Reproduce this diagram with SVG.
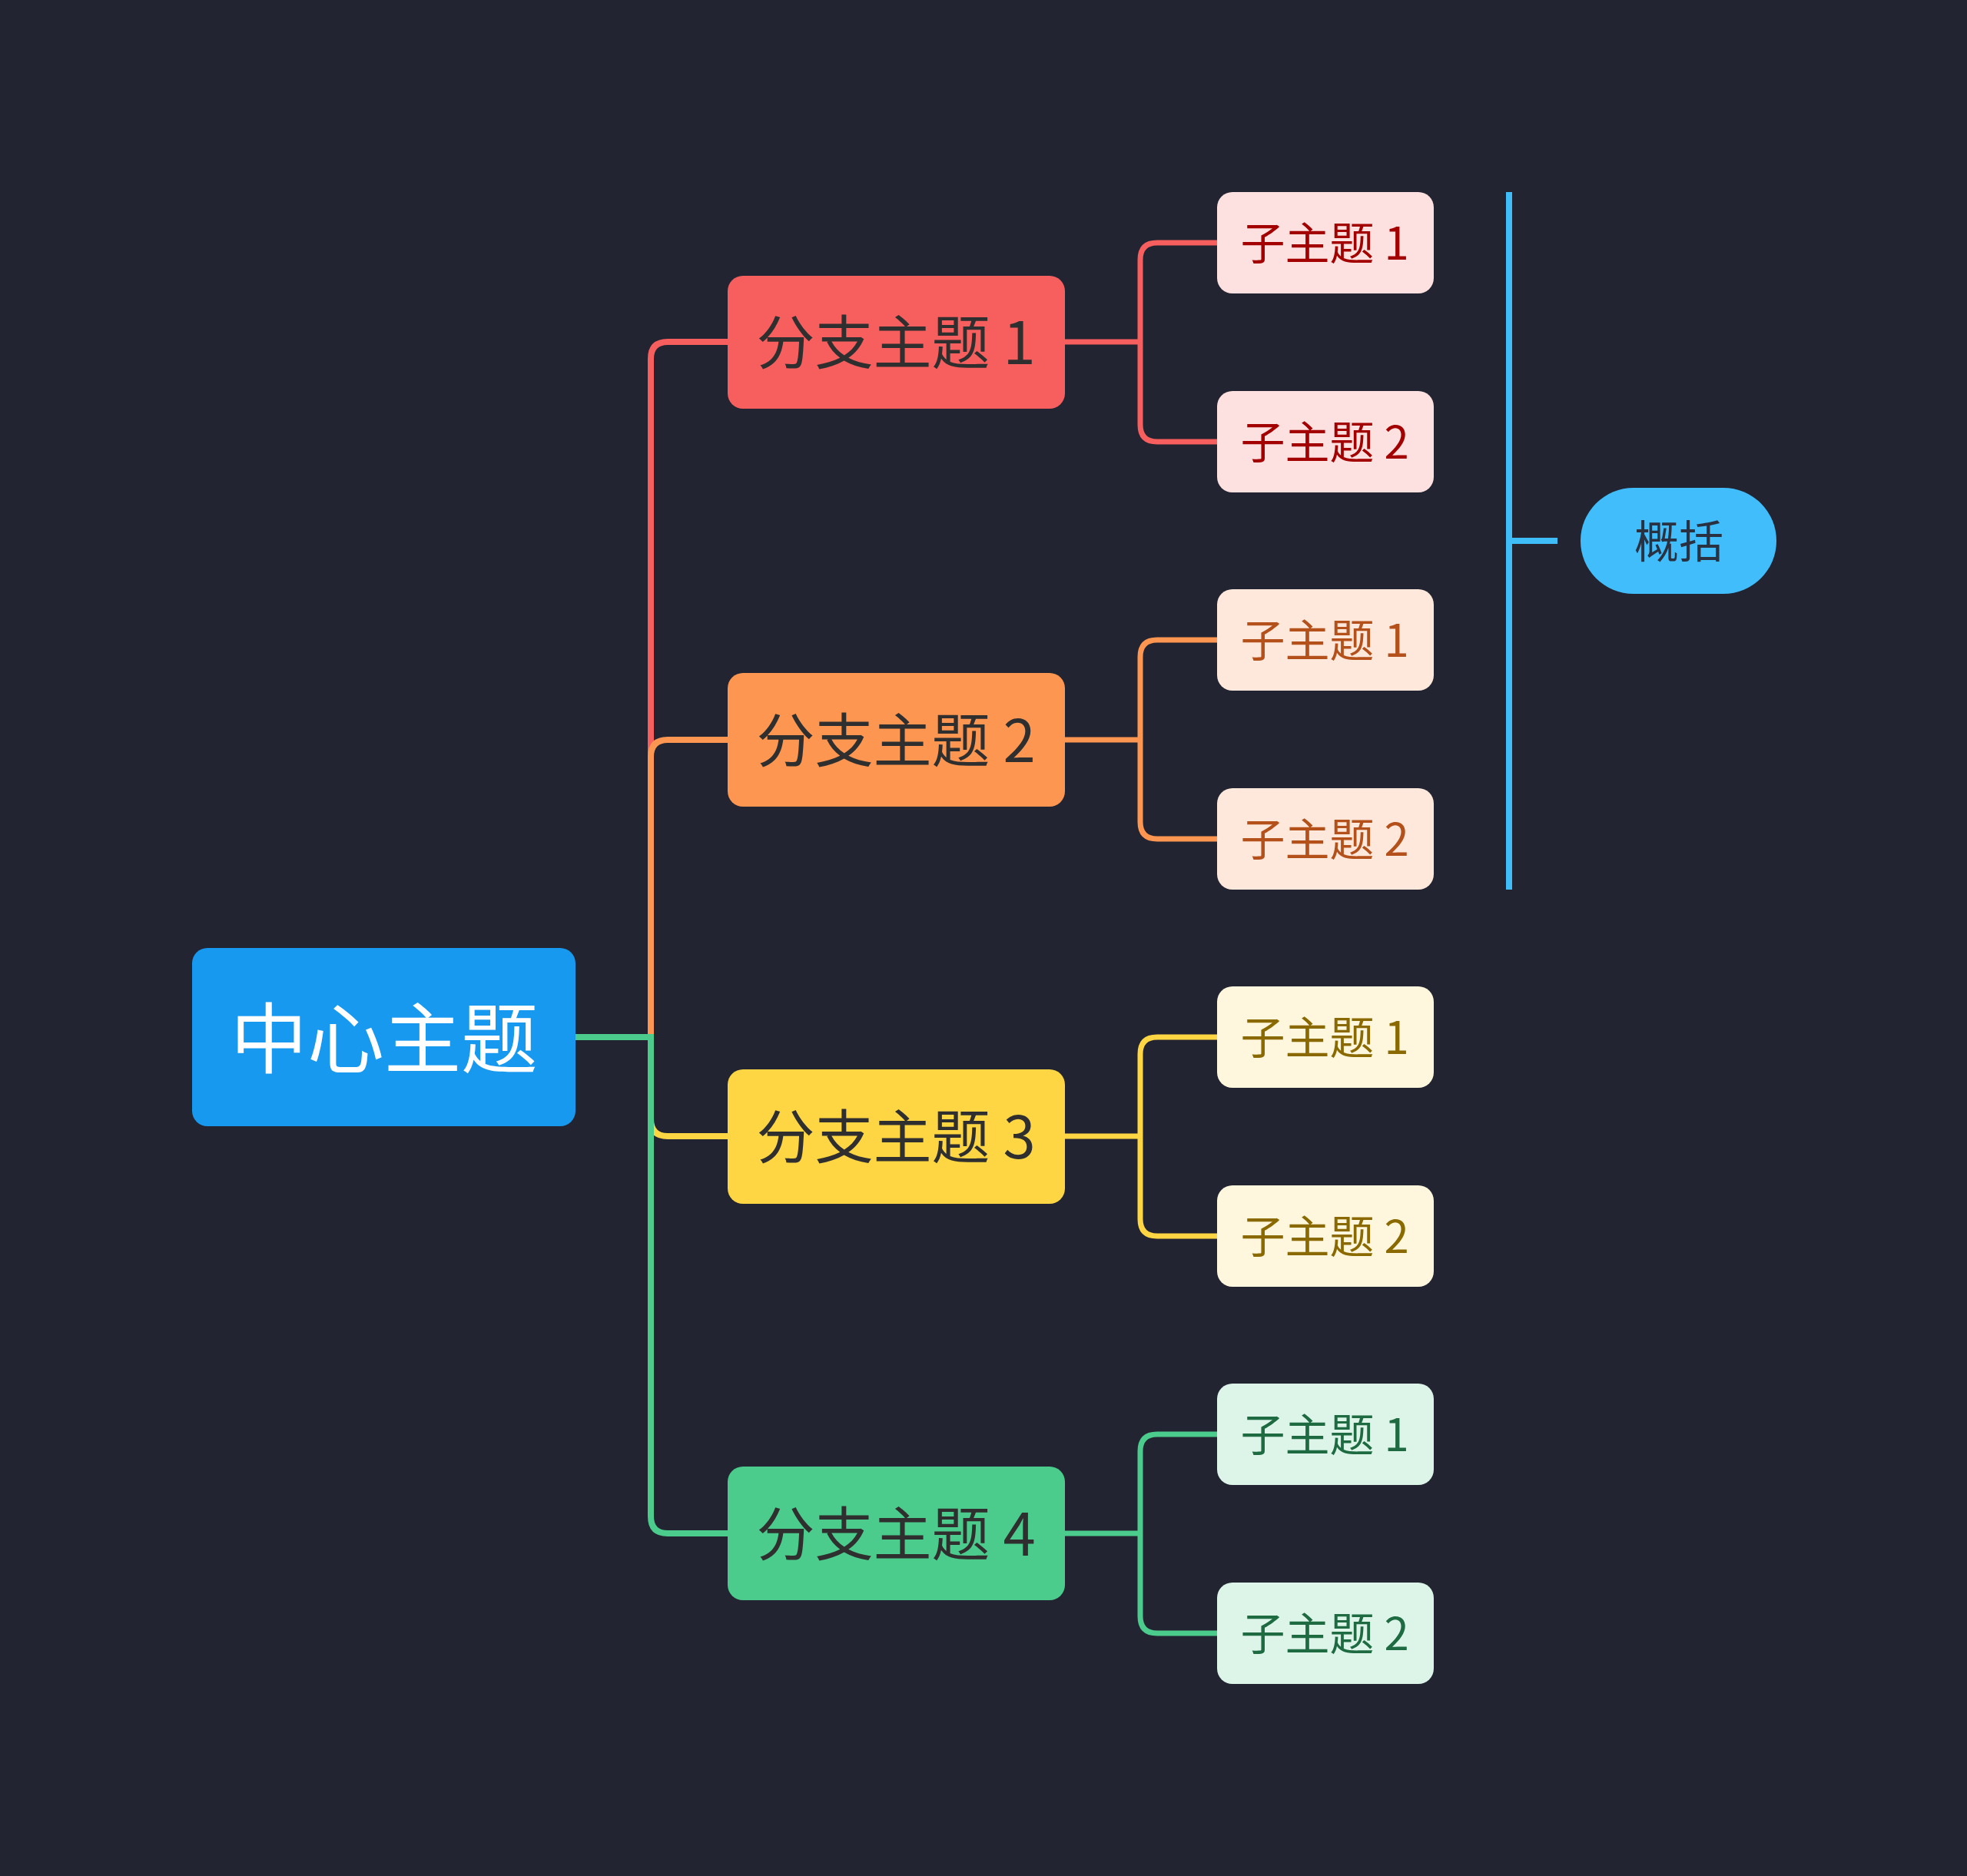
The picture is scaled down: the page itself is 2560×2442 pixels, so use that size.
<svg xmlns="http://www.w3.org/2000/svg" width="2560" height="2442" viewBox="0 0 2560 2442">
<style>
text{font-family:"Noto Sans CJK SC","Noto Sans",sans-serif;text-anchor:middle;dominant-baseline:central}
.c1{fill:#f75f5f}.c2{fill:#fd9650}.c3{fill:#fed643}.c4{fill:#4ccc8c}
.bt{font-size:76px;fill:#2f2f2f}
.st{font-size:58px}
.s1{fill:#fde0e0}.s2{fill:#fee8dc}.s3{fill:#fef7dd}.s4{fill:#dcf5e8}
.t1{fill:#a30000}.t2{fill:#b4501a}.t3{fill:#8a6a00}.t4{fill:#1e6b42}
.ln{fill:none;stroke-width:8}
.sl{fill:none;stroke-width:7}
</style>
<rect width="2560" height="2442" fill="#222531"/>
<g id="connectors">
<path class="ln" stroke="#f75f5f" d="M749 1350H847V467Q847 445 869 445H947"/>
<path class="ln" stroke="#fd9650" d="M749 1350H847V985Q847 963 869 963H947"/>
<path class="ln" stroke="#fed643" d="M749 1350H847V1457Q847 1479 869 1479H947"/>
<path class="ln" stroke="#4ccc8c" d="M749 1350H847V1974Q847 1996 869 1996H947"/>
<path class="sl" stroke="#f75f5f" d="M1386 445H1484M1584 316H1506Q1484 316 1484 338V553Q1484 575 1506 575H1584"/>
<path class="sl" stroke="#fd9650" d="M1386 963H1484M1584 833H1506Q1484 833 1484 855V1070Q1484 1092 1506 1092H1584"/>
<path class="sl" stroke="#fed643" d="M1386 1479H1484M1584 1350H1506Q1484 1350 1484 1372V1587Q1484 1609 1506 1609H1584"/>
<path class="sl" stroke="#4ccc8c" d="M1386 1996H1484M1584 1867H1506Q1484 1867 1484 1889V2104Q1484 2126 1506 2126H1584"/>
<path fill="none" stroke="#3fbdf8" stroke-width="8" d="M1964 250V1158M1964 704H2027"/>
</g>
<g id="center">
<rect x="250" y="1234" width="499" height="232" rx="20" fill="#1899f0"/>
<text x="500" y="1345" font-size="100" fill="#ffffff">中心主题</text>
</g>
<g id="branch1"><rect class="c1" x="947" y="359" width="439" height="173" rx="20"/><text class="bt" x="1166" y="441">分支主题 1</text></g>
<g id="branch2"><rect class="c2" x="947" y="876" width="439" height="174" rx="20"/><text class="bt" x="1166" y="959">分支主题 2</text></g>
<g id="branch3"><rect class="c3" x="947" y="1392" width="439" height="175" rx="20"/><text class="bt" x="1166" y="1475">分支主题 3</text></g>
<g id="branch4"><rect class="c4" x="947" y="1909" width="439" height="174" rx="20"/><text class="bt" x="1166" y="1992">分支主题 4</text></g>
<g id="sub1a"><rect class="s1" x="1584" y="250" width="282" height="132" rx="20"/><text class="st t1" x="1724" y="313">子主题 1</text></g>
<g id="sub1b"><rect class="s1" x="1584" y="509" width="282" height="132" rx="20"/><text class="st t1" x="1724" y="572">子主题 2</text></g>
<g id="sub2a"><rect class="s2" x="1584" y="767" width="282" height="132" rx="20"/><text class="st t2" x="1724" y="830">子主题 1</text></g>
<g id="sub2b"><rect class="s2" x="1584" y="1026" width="282" height="132" rx="20"/><text class="st t2" x="1724" y="1089">子主题 2</text></g>
<g id="sub3a"><rect class="s3" x="1584" y="1284" width="282" height="132" rx="20"/><text class="st t3" x="1724" y="1347">子主题 1</text></g>
<g id="sub3b"><rect class="s3" x="1584" y="1543" width="282" height="132" rx="20"/><text class="st t3" x="1724" y="1606">子主题 2</text></g>
<g id="sub4a"><rect class="s4" x="1584" y="1801" width="282" height="132" rx="20"/><text class="st t4" x="1724" y="1864">子主题 1</text></g>
<g id="sub4b"><rect class="s4" x="1584" y="2060" width="282" height="132" rx="20"/><text class="st t4" x="1724" y="2123">子主题 2</text></g>
<g id="summary">
<rect x="2057" y="635" width="255" height="138" rx="69" fill="#40bdfa"/>
<text x="2185" y="701" font-size="58" fill="#2a3140">概括</text>
</g>
</svg>
